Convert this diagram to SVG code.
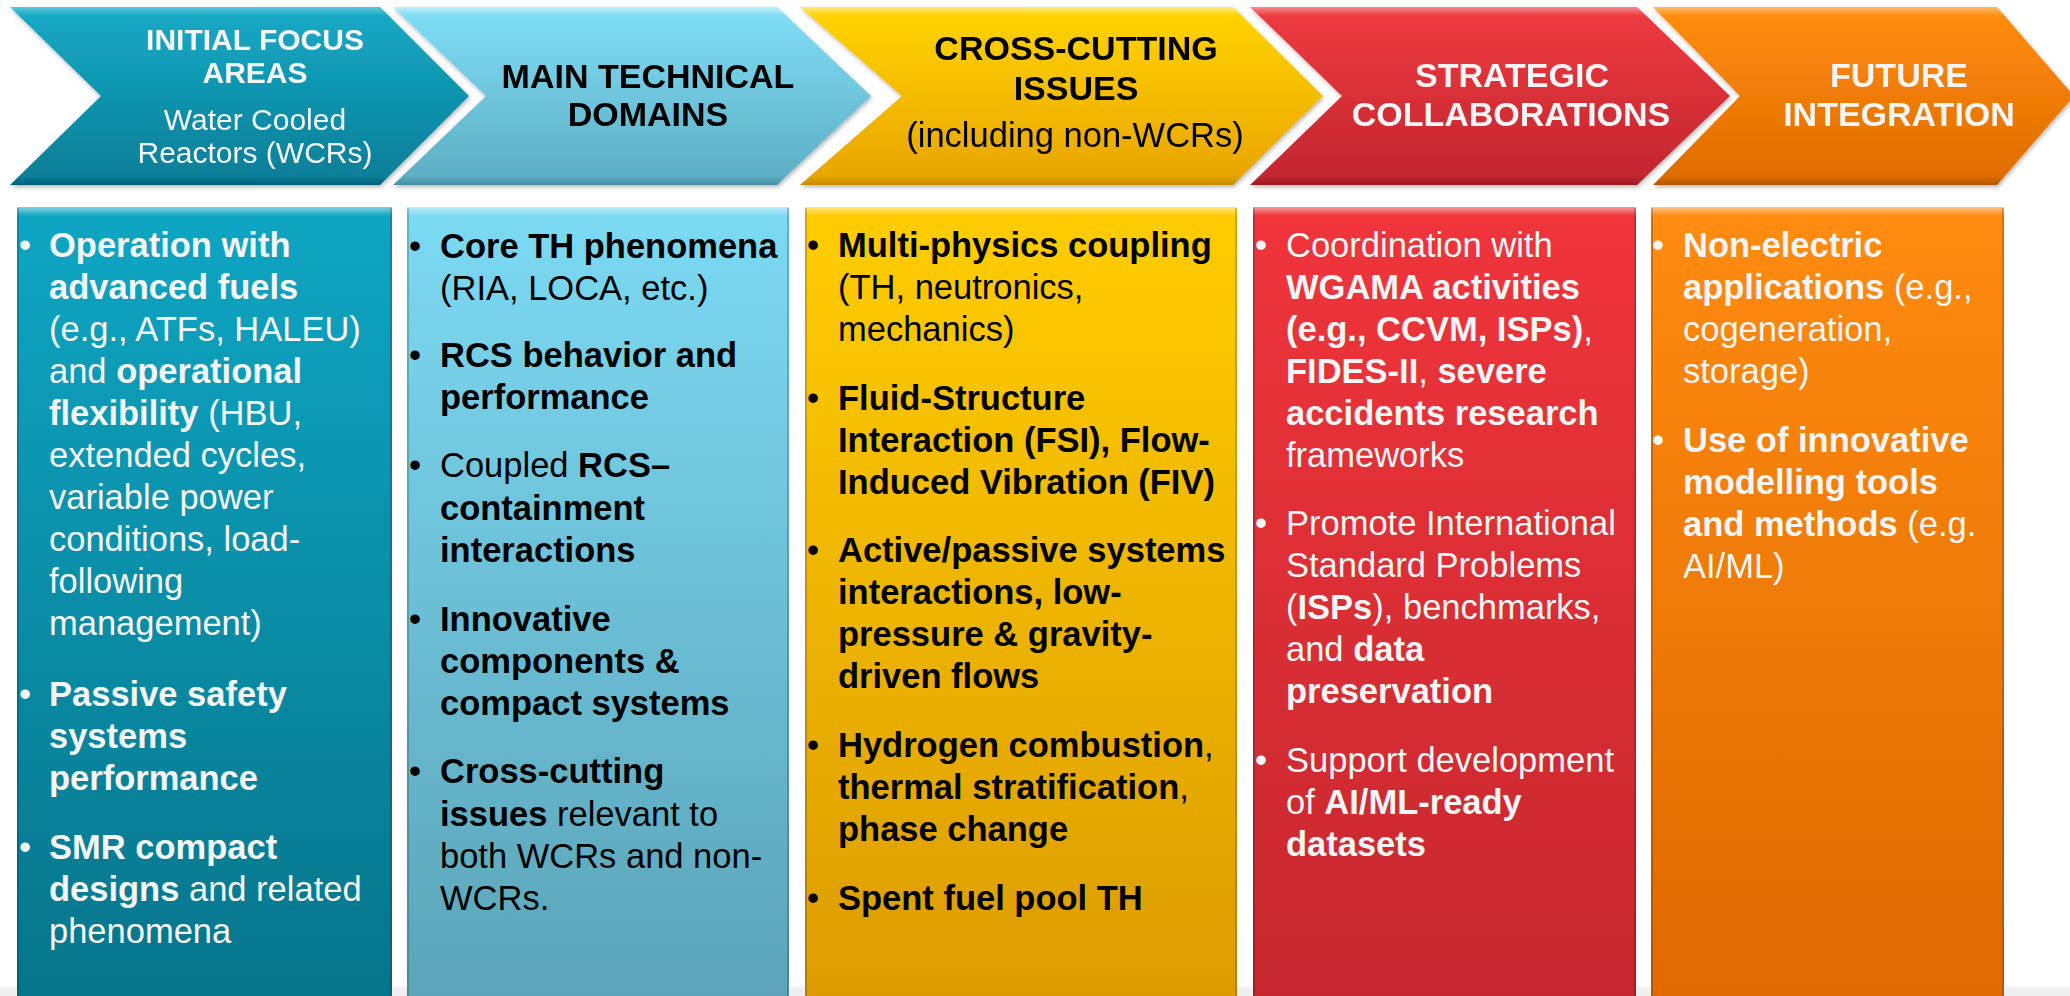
<svg xmlns="http://www.w3.org/2000/svg" width="2070" height="996" viewBox="0 0 2070 996">
  <defs>
    <!-- chevron fills: light bevel line on top, dark bevel line on bottom -->
    <linearGradient id="chTeal" x1="0" y1="0" x2="0" y2="1">
      <stop offset="0" stop-color="#5cc8dc"/>
      <stop offset="0.05" stop-color="#16a8c4"/>
      <stop offset="0.95" stop-color="#077f98"/>
      <stop offset="1" stop-color="#05607a"/>
    </linearGradient>
    <linearGradient id="chSky" x1="0" y1="0" x2="0" y2="1">
      <stop offset="0" stop-color="#bdf0fb"/>
      <stop offset="0.05" stop-color="#7edcf5"/>
      <stop offset="0.95" stop-color="#5eafc4"/>
      <stop offset="1" stop-color="#4790a3"/>
    </linearGradient>
    <linearGradient id="chGold" x1="0" y1="0" x2="0" y2="1">
      <stop offset="0" stop-color="#ffe97a"/>
      <stop offset="0.05" stop-color="#ffd200"/>
      <stop offset="0.95" stop-color="#e9a600"/>
      <stop offset="1" stop-color="#c48900"/>
    </linearGradient>
    <linearGradient id="chRed" x1="0" y1="0" x2="0" y2="1">
      <stop offset="0" stop-color="#f88a8d"/>
      <stop offset="0.05" stop-color="#ee3a40"/>
      <stop offset="0.95" stop-color="#c3262e"/>
      <stop offset="1" stop-color="#9c1c23"/>
    </linearGradient>
    <linearGradient id="chOrange" x1="0" y1="0" x2="0" y2="1">
      <stop offset="0" stop-color="#ffbb6a"/>
      <stop offset="0.05" stop-color="#ff8c0c"/>
      <stop offset="0.95" stop-color="#e06d00"/>
      <stop offset="1" stop-color="#b45600"/>
    </linearGradient>

    <!-- column panel fills -->
    <linearGradient id="bxTeal" x1="0" y1="0" x2="0" y2="1">
      <stop offset="0" stop-color="#0ea6c3"/>
      <stop offset="1" stop-color="#06758b"/>
    </linearGradient>
    <linearGradient id="bxSky" x1="0" y1="0" x2="0" y2="1">
      <stop offset="0" stop-color="#7cdaf3"/>
      <stop offset="1" stop-color="#5ba4b8"/>
    </linearGradient>
    <linearGradient id="bxGold" x1="0" y1="0" x2="0" y2="1">
      <stop offset="0" stop-color="#ffcd00"/>
      <stop offset="1" stop-color="#dc9c00"/>
    </linearGradient>
    <linearGradient id="bxRed" x1="0" y1="0" x2="0" y2="1">
      <stop offset="0" stop-color="#f0353b"/>
      <stop offset="1" stop-color="#c6272e"/>
    </linearGradient>
    <linearGradient id="bxOrange" x1="0" y1="0" x2="0" y2="1">
      <stop offset="0" stop-color="#ff8b10"/>
      <stop offset="1" stop-color="#de6a00"/>
    </linearGradient>
    <linearGradient id="bevelTop" x1="0" y1="0" x2="0" y2="1">
      <stop offset="0" stop-color="#ffffff" stop-opacity="0.5"/>
      <stop offset="1" stop-color="#ffffff" stop-opacity="0"/>
    </linearGradient>

    <filter id="shadow" x="-3%" y="-5%" width="106%" height="115%">
      <feDropShadow dx="1" dy="2" stdDeviation="2" flood-color="#000" flood-opacity="0.3"/>
    </filter>
  </defs>

  <style>
    text { font-family: "Liberation Sans", Arial, Helvetica, sans-serif; }
    .hd { font-size: 34px; font-weight: bold; text-anchor: middle; }
    .hs { font-size: 30px; text-anchor: middle; }
    .body { font-size: 34.5px; }
    .b { font-weight: bold; }
    .w { fill: #f5f5f5; }
    .k { fill: #000000; }
    .edge { fill: none; stroke: #000; stroke-opacity: 0.18; stroke-width: 2; }
  </style>

  <!-- page -->
  <rect x="0" y="0" width="2070" height="996" fill="#ffffff"/>
  <rect x="0" y="987" width="2070" height="9" fill="#efefef"/>

  <!-- ===== header chevrons ===== -->
  <g id="chevron-initial-focus" filter="url(#shadow)">
    <polygon points="10,7 380,7 469,96 380,185 10,185 101,96" fill="url(#chTeal)"/>
    <text class="hd w" style="font-size:30px" x="255" y="50">INITIAL FOCUS</text>
    <text class="hd w" style="font-size:30px" x="255" y="83">AREAS</text>
    <text class="hs w" x="255" y="130">Water Cooled</text>
    <text class="hs w" x="255" y="163">Reactors (WCRs)</text>
  </g>

  <g id="chevron-main-domains" filter="url(#shadow)">
    <polygon points="393,7 777,7 871,96 777,185 393,185 486,96" fill="url(#chSky)"/>
    <text class="hd k" x="648" y="88">MAIN TECHNICAL</text>
    <text class="hd k" x="648" y="126">DOMAINS</text>
  </g>

  <g id="chevron-cross-cutting" filter="url(#shadow)">
    <polygon points="800,7 1233,7 1323,96 1233,185 800,185 902,96" fill="url(#chGold)"/>
    <text class="hd k" x="1076" y="60">CROSS-CUTTING</text>
    <text class="hd k" x="1076" y="100">ISSUES</text>
    <text class="k" style="font-size:34.5px;text-anchor:middle" x="1075" y="147">(including non-WCRs)</text>
  </g>

  <g id="chevron-strategic" filter="url(#shadow)">
    <polygon points="1250,7 1637,7 1730,96 1637,185 1250,185 1342,96" fill="url(#chRed)"/>
    <text class="hd w" x="1512" y="87">STRATEGIC</text>
    <text class="hd w" x="1511" y="126">COLLABORATIONS</text>
  </g>

  <g id="chevron-future" filter="url(#shadow)">
    <polygon points="1653,7 1997,7 2074,96 1997,185 1653,185 1740,96" fill="url(#chOrange)"/>
    <text class="hd w" x="1899" y="87">FUTURE</text>
    <text class="hd w" x="1899" y="126">INTEGRATION</text>
  </g>

  <!-- flow is carried by the chevron shapes; no separate connectors -->
  <g id="connectors"/>

  <!-- ===== column panels ===== -->
  <g id="panel-initial-focus">
    <rect x="17" y="207" width="375" height="789" fill="url(#bxTeal)"/>
    <rect x="17" y="207" width="375" height="9" fill="url(#bevelTop)"/>
    <path class="edge" d="M18,996 V208 M391,208 V996"/>
    <g class="body w">
      <text x="19" y="257">•</text>
      <text x="49" y="257" class="b">Operation with</text>
      <text x="49" y="299" class="b">advanced fuels</text>
      <text x="49" y="341">(e.g., ATFs, HALEU)</text>
      <text x="49" y="383">and <tspan class="b">operational</tspan></text>
      <text x="49" y="425"><tspan class="b">flexibility</tspan> (HBU,</text>
      <text x="49" y="467">extended cycles,</text>
      <text x="49" y="509">variable power</text>
      <text x="49" y="551">conditions, load-</text>
      <text x="49" y="593">following</text>
      <text x="49" y="635">management)</text>
      <text x="19" y="706">•</text>
      <text x="49" y="706" class="b">Passive safety</text>
      <text x="49" y="748" class="b">systems</text>
      <text x="49" y="790" class="b">performance</text>
      <text x="19" y="859">•</text>
      <text x="49" y="859" class="b">SMR compact</text>
      <text x="49" y="901"><tspan class="b">designs</tspan> and related</text>
      <text x="49" y="943">phenomena</text>
    </g>
  </g>

  <g id="panel-main-domains">
    <rect x="407" y="207" width="382" height="789" fill="url(#bxSky)"/>
    <rect x="407" y="207" width="382" height="9" fill="url(#bevelTop)"/>
    <path class="edge" d="M408,996 V208 M788,208 V996"/>
    <g class="body k">
      <text x="409" y="258">•</text>
      <text x="440" y="258" class="b">Core TH phenomena</text>
      <text x="440" y="300">(RIA, LOCA, etc.)</text>
      <text x="409" y="367">•</text>
      <text x="440" y="367" class="b">RCS behavior and</text>
      <text x="440" y="409" class="b">performance</text>
      <text x="409" y="477">•</text>
      <text x="440" y="477">Coupled <tspan class="b">RCS–</tspan></text>
      <text x="440" y="520" class="b">containment</text>
      <text x="440" y="562" class="b">interactions</text>
      <text x="409" y="631">•</text>
      <text x="440" y="631" class="b">Innovative</text>
      <text x="440" y="673" class="b">components &amp;</text>
      <text x="440" y="715" class="b">compact systems</text>
      <text x="409" y="783">•</text>
      <text x="440" y="783" class="b">Cross-cutting</text>
      <text x="440" y="826"><tspan class="b">issues</tspan> relevant to</text>
      <text x="440" y="868">both WCRs and non-</text>
      <text x="440" y="910">WCRs.</text>
    </g>
  </g>

  <g id="panel-cross-cutting">
    <rect x="805" y="207" width="432" height="789" fill="url(#bxGold)"/>
    <rect x="805" y="207" width="432" height="9" fill="url(#bevelTop)"/>
    <path class="edge" d="M806,996 V208 M1236,208 V996"/>
    <g class="body k">
      <text x="807" y="257">•</text>
      <text x="838" y="257" class="b">Multi-physics coupling</text>
      <text x="838" y="299">(TH, neutronics,</text>
      <text x="838" y="341">mechanics)</text>
      <text x="807" y="410">•</text>
      <text x="838" y="410" class="b">Fluid-Structure</text>
      <text x="838" y="452" class="b">Interaction (FSI), Flow-</text>
      <text x="838" y="494" class="b">Induced Vibration (FIV)</text>
      <text x="807" y="562">•</text>
      <text x="838" y="562" class="b">Active/passive systems</text>
      <text x="838" y="604" class="b">interactions, low-</text>
      <text x="838" y="646" class="b">pressure &amp; gravity-</text>
      <text x="838" y="688" class="b">driven flows</text>
      <text x="807" y="757">•</text>
      <text x="838" y="757"><tspan class="b">Hydrogen combustion</tspan>,</text>
      <text x="838" y="799"><tspan class="b">thermal stratification</tspan>,</text>
      <text x="838" y="841" class="b">phase change</text>
      <text x="807" y="910">•</text>
      <text x="838" y="910" class="b">Spent fuel pool TH</text>
    </g>
  </g>

  <g id="panel-strategic">
    <rect x="1253" y="207" width="383" height="789" fill="url(#bxRed)"/>
    <rect x="1253" y="207" width="383" height="9" fill="url(#bevelTop)"/>
    <path class="edge" d="M1254,996 V208 M1635,208 V996"/>
    <g class="body w">
      <text x="1255" y="257">•</text>
      <text x="1286" y="257">Coordination with</text>
      <text x="1286" y="299" class="b">WGAMA activities</text>
      <text x="1286" y="341"><tspan class="b">(e.g., CCVM, ISPs)</tspan>,</text>
      <text x="1286" y="383"><tspan class="b">FIDES-II</tspan>, <tspan class="b">severe</tspan></text>
      <text x="1286" y="425" class="b">accidents research</text>
      <text x="1286" y="467">frameworks</text>
      <text x="1255" y="535">•</text>
      <text x="1286" y="535">Promote International</text>
      <text x="1286" y="577">Standard Problems</text>
      <text x="1286" y="619">(<tspan class="b">ISPs</tspan>), benchmarks,</text>
      <text x="1286" y="661">and <tspan class="b">data</tspan></text>
      <text x="1286" y="703" class="b">preservation</text>
      <text x="1255" y="772">•</text>
      <text x="1286" y="772">Support development</text>
      <text x="1286" y="814">of <tspan class="b">AI/ML-ready</tspan></text>
      <text x="1286" y="856" class="b">datasets</text>
    </g>
  </g>

  <g id="panel-future">
    <rect x="1651" y="207" width="353" height="789" fill="url(#bxOrange)"/>
    <rect x="1651" y="207" width="353" height="9" fill="url(#bevelTop)"/>
    <path class="edge" d="M1652,996 V208 M2003,208 V996"/>
    <g class="body w">
      <text x="1652" y="257">•</text>
      <text x="1683" y="257" class="b">Non-electric</text>
      <text x="1683" y="299"><tspan class="b">applications</tspan> (e.g.,</text>
      <text x="1683" y="341">cogeneration,</text>
      <text x="1683" y="383">storage)</text>
      <text x="1652" y="452">•</text>
      <text x="1683" y="452" class="b">Use of innovative</text>
      <text x="1683" y="494" class="b">modelling tools</text>
      <text x="1683" y="536"><tspan class="b">and methods</tspan> (e.g.</text>
      <text x="1683" y="578">AI/ML)</text>
    </g>
  </g>
</svg>
